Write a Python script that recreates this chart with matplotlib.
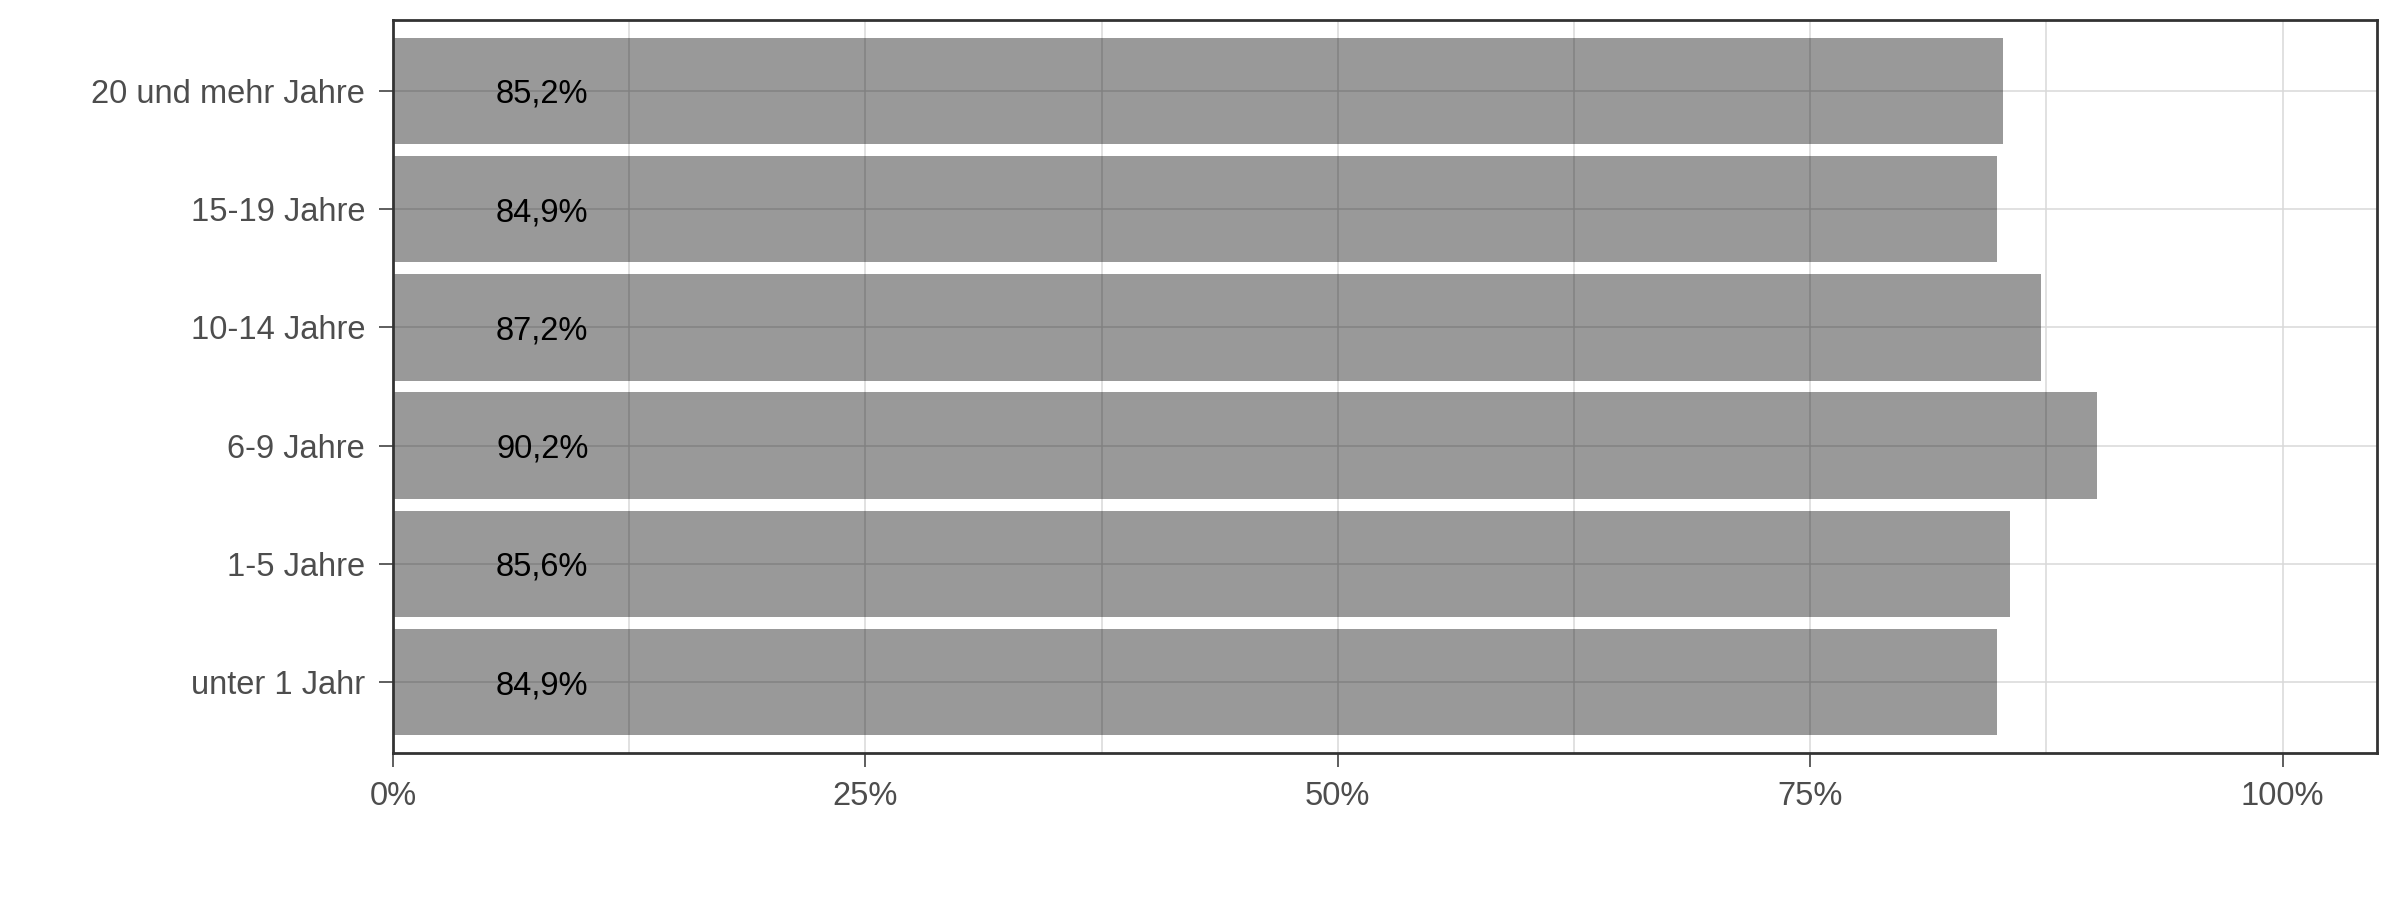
import matplotlib.pyplot as plt
import numpy as np

plt.rcParams['font.family'] = ['Liberation Sans', 'DejaVu Sans']

# data
categories = ['unter 1 Jahr', '1-5 Jahre', '6-9 Jahre', '10-14 Jahre', '15-19 Jahre', '20 und mehr Jahre']
values = [84.9, 85.6, 90.2, 87.2, 84.9, 85.2]
tick_vals = [0, 25, 50, 75, 100]
tick_labels = ['0%', '25%', '50%', '75%', '100%']

fig = plt.figure(figsize=(24, 9), dpi=100)
ax = fig.add_axes([393 / 2400, 1 - 753 / 900, (2377 - 393) / 2400, (753 - 20) / 900])

y = np.arange(len(categories))

# grid sits under translucent bars
ax.set_axisbelow(True)
ax.set_xticks([12.5, 37.5, 62.5, 87.5], minor=True)
ax.grid(True, which='major', color='#d9d9d9', linewidth=1.1)
ax.grid(True, which='minor', axis='x', color='#d9d9d9', linewidth=1.1)

ax.barh(y, values, height=0.9, color='black', alpha=0.4, linewidth=0)

for yi, v in zip(y, values):
  lbl = f'{v:.1f}%'.replace('.', ',')
  ax.text(7.9, yi, lbl, ha='center', va='center_baseline', fontsize=23.5, color='black')

ax.set_xlim(0, 105)
ax.set_ylim(-0.6, len(categories) - 0.4)
ax.set_xticks(tick_vals)
ax.set_xticklabels(tick_labels)
ax.set_yticks(y)
ax.set_yticklabels(categories, va='center_baseline')

ax.tick_params(axis='both', which='major', labelsize=23.5, labelcolor='#4d4d4d',
               color='#333333', length=10, width=1.1, pad=10)
ax.tick_params(axis='both', which='minor', length=0)

for s in ax.spines.values():
  s.set_color('#333333')
  s.set_linewidth(2)

fig.savefig('out.png', dpi=100, facecolor='white')
